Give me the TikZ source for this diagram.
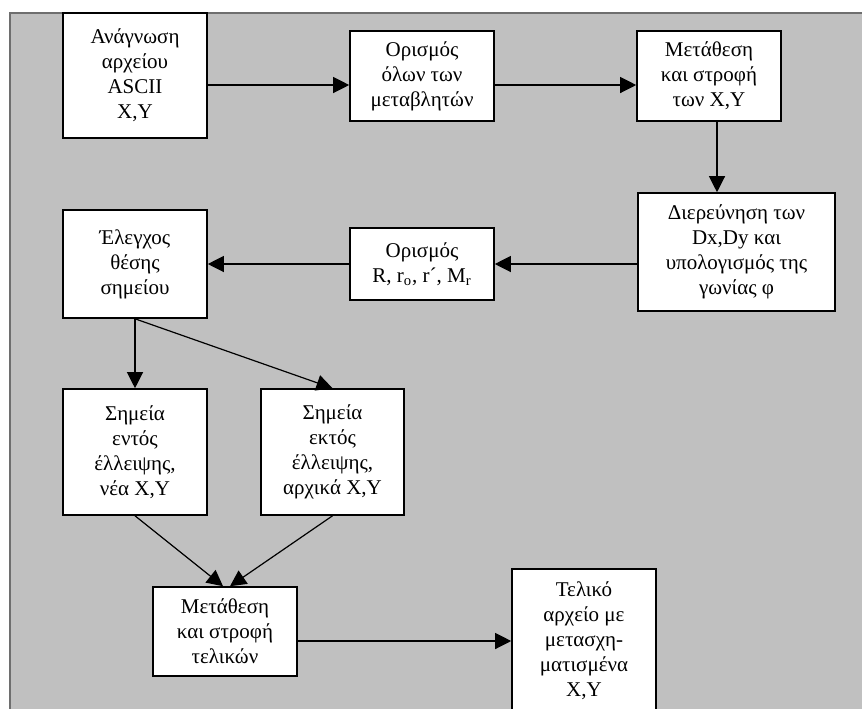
\documentclass[tikz,border=0pt]{standalone}
\usepackage{fontspec}
\setmainfont{Liberation Serif}
\usetikzlibrary{arrows.meta}
\definecolor{panel}{RGB}{192,192,192}
\definecolor{frame}{RGB}{110,110,110}

\begin{document}
\begin{tikzpicture}[x=0.5pt,y=-0.5pt,
    box/.style={draw,fill=white,line width=0.8pt,align=center,inner sep=0pt,
        font=\fontsize{10.5}{12.5}\selectfont},
    >={Triangle[length=8pt,width=8pt]}]
    \useasboundingbox (0,0) rectangle (862,708);
    \begin{scope}
    \clip (0,0) rectangle (862,708);
    \filldraw[fill=panel,draw=frame,line width=0.6pt] (10,13) rectangle (880,730);

    \node (read) at (135,75.5) [box,minimum width=72pt,minimum height=62.5pt] {Ανάγνωση\\αρχείου\\ASCII\\X,Y};
    \node (vars) at (422,76) [box,minimum width=72pt,minimum height=45pt] {Ορισμός\\όλων των\\μεταβλητών};
    \node (shift) at (709,76) [box,minimum width=72pt,minimum height=45pt] {Μετάθεση\\και στροφή\\των X,Y};
    \node (probe) at (736.5,252) [box,minimum width=98.5pt,minimum height=59pt] {Διερεύνηση των\\Dx,Dy και\\υπολογισμός της\\γωνίας φ};
    \node (radii) at (422,264) [box,minimum width=72pt,minimum height=36pt] {Ορισμός\\R, r\textsubscript{o}, r´, M\textsubscript{r}};
    \node (check) at (135,264) [box,minimum width=72pt,minimum height=54pt] {Έλεγχος\\θέσης\\σημείου};
    \node (inside) at (135,452) [box,minimum width=72pt,minimum height=63pt] {Σημεία\\εντός\\έλλειψης,\\νέα X,Y};
    \node (outside) at (332.5,452) [box,minimum width=71.5pt,minimum height=63pt] {Σημεία\\εκτός\\έλλειψης,\\αρχικά X,Y};
    \node (back) at (225,631.5) [box,minimum width=72pt,minimum height=44.5pt] {Μετάθεση\\και στροφή\\τελικών};
    \node (result) at (584,640.5) [box,minimum width=72pt,minimum height=71.5pt] {Τελικό\\αρχείο με\\μετασχη-\\ματισμένα\\X,Y};

    \begin{scope}[line width=0.6pt]
        \draw[->] (read.east |- 0,85) -- (vars.west |- 0,85);
        \draw[->] (vars.east |- 0,85) -- (shift.west |- 0,85);
        \draw[->] (shift.south -| 717,0) -- (probe.north -| 717,0);
        \draw[->] (probe.west |- radii.east) -- (radii.east);
        \draw[->] (radii.west) -- (check.east);
        \draw[->] (check.south) -- (inside.north);
        \draw[->] (check.south) -- (outside.north);
        \draw[->] (inside.south) -- ([xshift=-1pt]back.north);
        \draw[->] (outside.south) -- ([xshift=2.5pt]back.north);
        \draw[->] (back.east |- 0,641) -- (result.west |- 0,641);
    \end{scope}
    \end{scope}
\end{tikzpicture}
\end{document}
